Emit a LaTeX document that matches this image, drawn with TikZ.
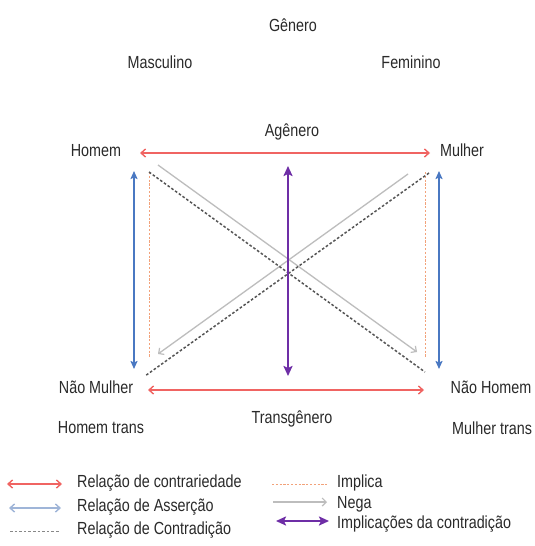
\documentclass[tikz,border=0pt]{standalone}
\usepackage{fontspec}
\setmainfont[FakeStretch=0.82]{Liberation Sans}
\usetikzlibrary{arrows.meta}

\definecolor{contra}{HTML}{F06462}
\definecolor{assert}{HTML}{4A78C2}
\definecolor{assertlite}{HTML}{9FB5D8}
\definecolor{impl}{HTML}{F2A27A}
\definecolor{nega}{HTML}{BDBDBD}
\definecolor{contrad}{HTML}{555555}
\definecolor{implcontr}{HTML}{6E2EA6}
\definecolor{ink}{HTML}{2A2A2A}

\tikzset{
  lbl/.style={font=\fontsize{17.5}{20}\selectfont, text=ink, inner sep=0pt, anchor=mid},
  leg/.style={font=\fontsize{17.5}{20}\selectfont, text=ink, inner sep=0pt, anchor=mid west},
  barb/.tip={Straight Barb[length=4.5pt,width=8pt,line width=1.4pt]},
  contrarrow/.style={draw=contra, line width=1.7pt, barb-barb},
  assertarrow/.style={draw=assert, line width=1.7pt,
    {Stealth[length=8pt,width=7pt,inset=1.5pt]}-{Stealth[length=8pt,width=7pt,inset=1.5pt]}},
  assertlitearrow/.style={draw=assertlite, line width=1.5pt, barb-barb},
  implline/.style={draw=impl, line width=1pt, dash pattern=on 2.2pt off 1.6pt},
  negarrow/.style={draw=nega, line width=1.3pt, -{Straight Barb[length=4pt,width=8pt,line width=1.2pt]}},
  contradline/.style={draw=contrad, line width=1.5pt, dash pattern=on 2.6pt off 2pt},
  implcarrow/.style={draw=implcontr, line width=2.6pt,
    {Stealth[length=10pt,width=9pt,inset=2pt]}-{Stealth[length=10pt,width=9pt,inset=2pt]}},
}

\begin{document}
\begin{tikzpicture}[x=1pt,y=-1pt]
  \useasboundingbox[fill=white] (0,0) rectangle (535,546);

  % headings
  \node[lbl] (genero)    at (293,29)  {Gênero};
  \node[lbl] (masculino) at (160,66)  {Masculino};
  \node[lbl] (feminino)  at (411,66)  {Feminino};
  \node[lbl] (agenero)   at (292,134) {Agênero};

  % corner terms of the square
  \node[lbl] (homem)   at (96,154)  {Homem};
  \node[lbl] (mulher)  at (462,154) {Mulher};
  \node[lbl] (naomul)  at (96,391)  {Não Mulher};
  \node[lbl] (naohom)  at (491,391) {Não Homem};

  \node[lbl] (transg)    at (292,421) {Transgênero};
  \node[lbl] (homtrans)  at (101,431) {Homem trans};
  \node[lbl,anchor=mid west] (multrans) at (452,432) {Mulher trans};

  % arrow end points
  \coordinate (cTL) at (140,153);  \coordinate (cTR) at (430,153);
  \coordinate (cBL) at (148,390);  \coordinate (cBR) at (424,390);
  \coordinate (aLt) at (134,171);  \coordinate (aLb) at (134,369);
  \coordinate (aRt) at (439,171);  \coordinate (aRb) at (439,369);
  \coordinate (iLt) at (149,172);  \coordinate (iLb) at (149,358);
  \coordinate (iRt) at (425,172);  \coordinate (iRb) at (425,358);
  \coordinate (pT)  at (288,166);  \coordinate (pB)  at (288,376);
  \coordinate (n1a) at (158,165);  \coordinate (n1b) at (417,352);
  \coordinate (n2a) at (408,174);  \coordinate (n2b) at (158,354);
  \coordinate (d1a) at (149,172);  \coordinate (d1b) at (425,372);
  \coordinate (d2a) at (429,173);  \coordinate (d2b) at (145,376);

  % relations of the square
  \draw[implline] (iLt) -- (iLb);
  \draw[implline] (iRt) -- (iRb);
  \draw[negarrow] (n1a) -- (n1b);
  \draw[negarrow] (n2a) -- (n2b);
  \draw[contradline] (d1a) -- (d1b);
  \draw[contradline] (d2a) -- (d2b);
  \draw[contrarrow] (cTL) -- (cTR);
  \draw[contrarrow] (cBL) -- (cBR);
  \draw[assertarrow] (aLt) -- (aLb);
  \draw[assertarrow] (aRt) -- (aRb);
  \draw[implcarrow] (pT) -- (pB);

  % legend
  \coordinate (l1a) at (7,484);   \coordinate (l1b) at (62,484);
  \coordinate (l2a) at (9,508);   \coordinate (l2b) at (61,508);
  \coordinate (l3a) at (10,531);  \coordinate (l3b) at (60,531);
  \coordinate (r1a) at (272,484); \coordinate (r1b) at (327,484);
  \coordinate (r2a) at (273,502); \coordinate (r2b) at (327,502);
  \coordinate (r3a) at (276,521); \coordinate (r3b) at (329,521);

  \draw[contrarrow] (l1a) -- (l1b);
  \draw[assertlitearrow] (l2a) -- (l2b);
  \draw[contradline, draw=contrad!70, line width=1pt] (l3a) -- (l3b);
  \draw[implline] (r1a) -- (r1b);
  \draw[negarrow] (r2a) -- (r2b);
  \draw[implcarrow] (r3a) -- (r3b);

  \node[leg] (k1) at (77,485)  {Relação de contrariedade};
  \node[leg] (k2) at (77,509)  {Relação de Asserção};
  \node[leg] (k3) at (77,532)  {Relação de Contradição};
  \node[leg] (k4) at (337,485) {Implica};
  \node[leg] (k5) at (337,506) {Nega};
  \node[leg] (k6) at (337,526) {Implicações da contradição};
\end{tikzpicture}
\end{document}
